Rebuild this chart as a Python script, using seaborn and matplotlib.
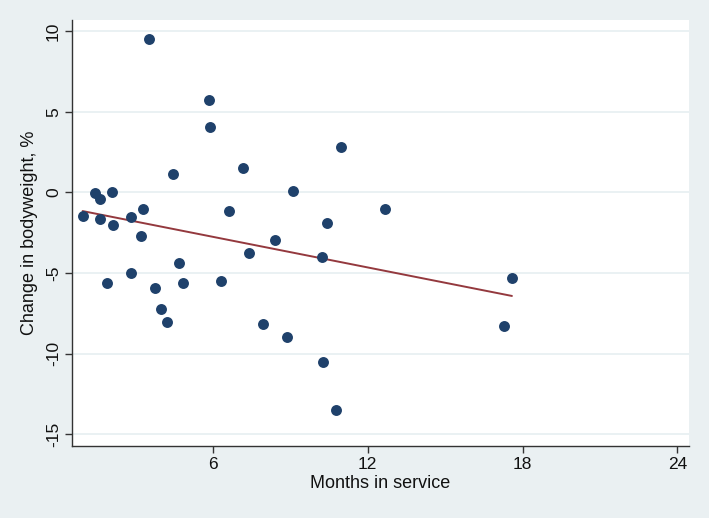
import numpy as np
import pandas as pd
import seaborn as sns
import matplotlib.pyplot as plt

# Values
months = [0.97, 1.43, 1.66, 1.66, 1.90, 2.10, 2.13, 2.83, 2.86, 3.24, 3.30, 3.53,
          3.76, 4.00, 4.24, 4.45, 4.70, 4.86, 5.86, 5.92, 6.32, 6.62, 7.19, 7.42,
          7.96, 8.41, 8.89, 9.12, 10.22, 10.27, 10.45, 10.76, 10.98, 12.67, 17.27, 17.59]
weight_change = [-1.45, -0.02, -0.42, -1.65, -5.62, 0.00, -2.03, -4.98, -1.51, -2.69, -1.01, 9.48,
                 -5.95, -7.23, -8.02, 1.13, -4.36, -5.62, 5.72, 4.05, -5.48, -1.14, 1.49, -3.78,
                 -8.18, -2.97, -8.95, 0.10, -3.99, -10.51, -1.88, -13.47, 2.79, -1.03, -8.30, -5.29]
x_ticks = [6, 12, 18, 24]
y_ticks = [-15, -10, -5, 0, 5, 10]

df = pd.DataFrame({'months': months, 'change': weight_change})

sns.set_style('white')
plt.rcParams['font.family'] = ['Liberation Sans', 'DejaVu Sans']

bg = '#EAF0F2'
fig = plt.figure(figsize=(7.09, 5.18), dpi=100, facecolor=bg)
ax = fig.add_axes([0.1016, 0.139, 0.870, 0.8224])
ax.set_facecolor('white')

# horizontal grid lines like Stata
for yt in y_ticks:
    ax.axhline(yt, color='#E6EFF1', lw=1.2, zorder=0)

sns.regplot(x='months', y='change', data=df, ci=None, ax=ax,
            scatter_kws={'s': 62, 'color': '#1F416B', 'alpha': 1, 'linewidths': 0, 'zorder': 3},
            line_kws={'color': '#94393E', 'lw': 1.4, 'zorder': 2})

ax.set_xlim(0.56, 24.44)
ax.set_ylim(-15.72, 10.68)
ax.set_xticks(x_ticks)
ax.set_yticks(y_ticks)
ax.set_yticklabels([str(v) for v in y_ticks], rotation=90, va='center')
ax.tick_params(axis='both', labelsize=12.5, length=5, width=1, color='#333333',
               direction='out', labelcolor='#111111', bottom=True, left=True)
ax.tick_params(axis='x', pad=3)
ax.tick_params(axis='y', pad=3)

for side in ['top', 'right']:
    ax.spines[side].set_visible(False)
for side in ['left', 'bottom']:
    ax.spines[side].set_color('#333333')
    ax.spines[side].set_linewidth(1)

ax.set_xlabel('Months in service', fontsize=13, color='#111111', labelpad=2)
ax.set_ylabel('Change in bodyweight, %', fontsize=13, color='#111111', labelpad=6)

fig.savefig('out.png', dpi=100, facecolor=bg)
